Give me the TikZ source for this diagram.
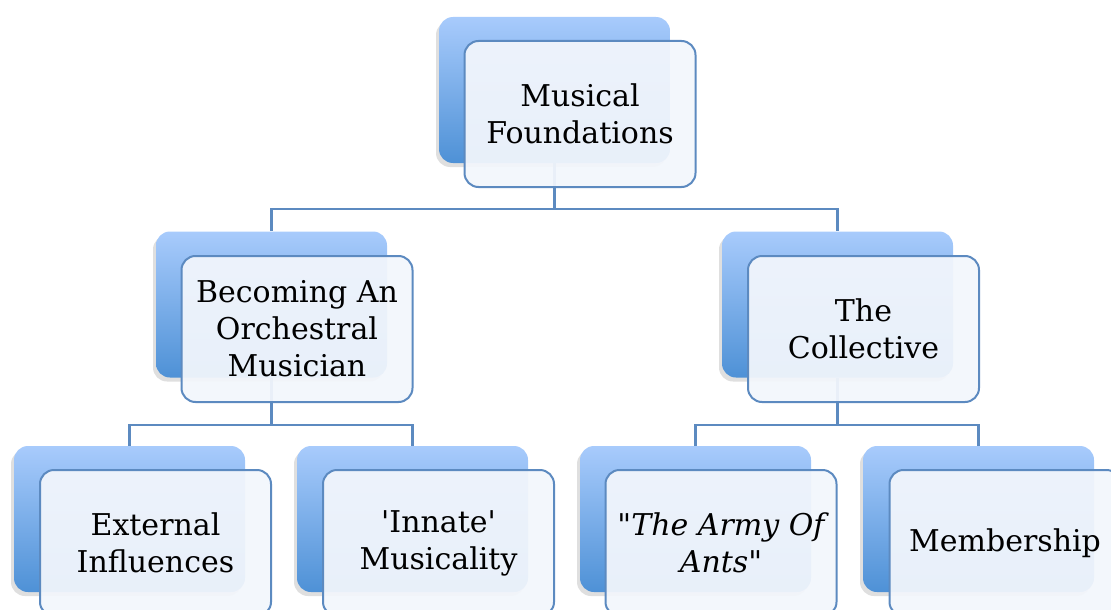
\documentclass[tikz,border=0pt]{standalone}
\usepackage{fontspec}
\setmainfont{DejaVu Serif}[Ligatures=TeXOff]
\usetikzlibrary{shadows,backgrounds}
\definecolor{boxtop}{RGB}{168,203,252}
\definecolor{boxbot}{RGB}{78,145,214}
\definecolor{edge}{RGB}{92,138,192}
\definecolor{pane}{RGB}{242,246,252}

\begin{document}
\begin{tikzpicture}[x=1pt,y=-1pt,
  back/.style={rounded corners=14pt,minimum width=231pt,minimum height=146pt,
    top color=boxtop,bottom color=boxbot,
    drop shadow={shadow xshift=-3pt,shadow yshift=-4pt,opacity=0.25}},
  pane/.style={draw=edge,line width=2pt,rounded corners=14pt,minimum width=231pt,
    minimum height=146pt,fill=pane,fill opacity=0.94,text opacity=1,align=center,
    font=\fontsize{30}{37}\selectfont},
  link/.style={draw=edge,line width=2.2pt}]
  \useasboundingbox (0,0) rectangle (1111,610);
  \clip (0,0) rectangle (1111,610);
  % top level
  \node[back] (mfB) at (554.5,90) {};
  \node[pane] (mf) at (580,114) {Musical\\Foundations};
  % second level
  \node[back] (becB) at (271.5,304.5) {};
  \node[pane] (bec) at (297,329) {Becoming An\\Orchestral\\Musician};
  \node[back] (colB) at (837.5,304.5) {};
  \node[pane] (col) at (863.5,329) {The\\Collective};
  % third level
  \node[back] (extB) at (129.5,519) {};
  \node[pane] (ext) at (155.5,543) {External\\Influences};
  \node[back] (innB) at (412.5,519) {};
  \node[pane] (inn) at (438.5,543) {'Innate'\\Musicality};
  \node[back] (armyB) at (695.5,519) {};
  \node[pane] (army) at (721,543) {\itshape "The Army Of\\\itshape Ants"};
  \node[back] (memB) at (978.5,519) {};
  \node[pane] (mem) at (1005,543) {Membership};
  \begin{scope}[on background layer]
    \draw[link] (mfB.south) -- ++(0,46) -| (becB.north);
    \draw[link] (mfB.south) -- ++(0,46) -| (colB.north);
    \draw[link] (becB.south) -- ++(0,47) -| (extB.north);
    \draw[link] (becB.south) -- ++(0,47) -| (innB.north);
    \draw[link] (colB.south) -- ++(0,47) -| (armyB.north);
    \draw[link] (colB.south) -- ++(0,47) -| (memB.north);
  \end{scope}
\end{tikzpicture}
\end{document}
